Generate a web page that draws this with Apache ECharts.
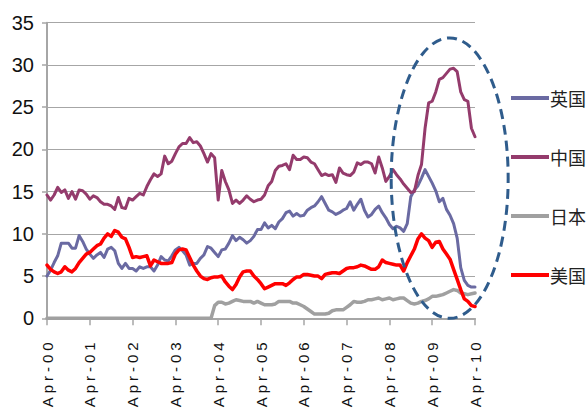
<!DOCTYPE html>
<html>
<head>
<meta charset="utf-8">
<script src="https://cdn.jsdelivr.net/npm/echarts@6/dist/echarts.min.js"></script>
<style>
  html, body { margin: 0; padding: 0; background: #fff; }
  #chart { width: 587px; height: 417px; }
  /* spaced-out date labels on the rotated category axis */
  #chart text[transform^="matrix(0,-1"] { letter-spacing: 4px; }
</style>
</head>
<body>
<div id="chart"></div>
<script>
// Monthly series, Apr-2000 .. Apr-2010 (121 points)
const monthNames = ['Jan','Feb','Mar','Apr','May','Jun','Jul','Aug','Sep','Oct','Nov','Dec'];
const categories = [];
for (let i = 0; i <= 120; i++) {
  const m = (3 + i) % 12;
  const y = Math.floor((3 + i) / 12);
  categories.push(monthNames[m] + '-' + String(y).padStart(2, '0'));
}

const seriesNames = ['英国', '中国', '日本', '美国'];

const ukValues = [
  5.0, 5.7, 6.6, 7.4, 8.9, 8.9, 8.9, 8.3, 8.3, 9.8, 9.1, 8.2,
  7.6, 7.1, 7.5, 7.8, 7.2, 8.2, 8.4, 8.0, 6.5, 5.9, 6.5, 5.9,
  5.9, 5.6, 6.1, 5.9, 6.1, 6.1, 5.6, 6.3, 7.3, 6.9, 6.8, 7.4,
  8.1, 8.4, 8.0, 7.5, 6.3, 6.5, 6.5, 7.1, 7.5, 8.5, 8.3, 7.8,
  7.3, 8.1, 8.2, 8.9, 9.8, 9.2, 9.6, 9.3, 8.9, 9.2, 9.7, 10.5,
  10.5, 11.3, 10.7, 11.0, 10.6, 11.4, 11.8, 12.5, 12.7, 12.1, 12.4, 12.1,
  12.2, 12.8, 13.1, 13.3, 13.8, 14.4, 13.6, 12.8, 12.6, 12.3, 12.5, 12.8,
  13.0, 13.8, 12.8, 13.5, 14.1, 12.8, 12.0, 12.3, 12.9, 13.3, 12.5, 11.9,
  11.1, 10.6, 10.9, 10.7, 10.3, 11.2, 14.4, 15.2, 15.7, 16.6, 17.6, 16.8,
  16.0, 15.1, 13.8, 14.2, 12.9, 12.2, 11.2, 9.5, 6.0, 4.5, 3.9, 3.7,
  3.7
];

const chinaValues = [
  14.6, 14.0, 14.6, 15.5, 14.9, 15.2, 14.2, 15.0, 14.1, 15.2, 15.1, 14.7,
  14.1, 14.5, 14.3, 13.8, 13.5, 13.5, 13.3, 12.9, 14.3, 13.1, 13.0, 14.2,
  14.0, 14.4, 14.8, 14.6, 15.6, 16.4, 17.1, 16.8, 17.1, 19.2, 18.3, 18.6,
  19.5, 20.3, 20.7, 20.7, 21.4, 20.8, 20.9, 20.4, 19.5, 18.5, 19.5, 19.0,
  14.0, 17.5, 16.2, 15.2, 13.6, 14.0, 13.6, 14.0, 14.5, 14.1, 13.8, 14.0,
  14.1, 14.6, 15.7, 16.2, 17.5, 18.0, 18.1, 18.3, 17.6, 19.3, 18.8, 18.8,
  19.1, 19.0, 18.5, 18.3, 17.6, 16.9, 17.1, 16.9, 17.0, 16.1, 17.8, 17.2,
  17.0, 16.9, 17.3, 18.4, 18.2, 18.5, 18.5, 18.3, 17.2, 19.1, 17.8, 16.2,
  16.8, 17.6, 17.0, 16.5, 15.9, 15.4, 14.9, 15.0, 16.9, 18.2, 22.5, 25.5,
  25.7, 26.8, 28.3, 28.5, 29.0, 29.5, 29.6, 29.2, 26.8, 25.9, 25.7, 22.5,
  21.5
];

const japanValues = [
  0, 0, 0, 0, 0, 0, 0, 0, 0, 0, 0, 0,
  0, 0, 0, 0, 0, 0, 0, 0, 0, 0, 0, 0,
  0, 0, 0, 0, 0, 0, 0, 0, 0, 0, 0, 0,
  0, 0, 0, 0, 0, 0, 0, 0, 0, 0, 0, 1.5,
  1.9, 1.9, 1.7, 1.8, 2.0, 2.2, 2.1, 2.0, 2.0, 2.0, 1.8, 2.0,
  1.8, 1.6, 1.6, 1.6, 1.7, 2.0, 2.0, 2.0, 2.0, 1.8, 1.8, 1.6,
  1.4, 1.1, 0.8, 0.5, 0.5, 0.5, 0.5, 0.6, 0.9, 1.0, 1.0, 1.0,
  1.3, 1.6, 2.0, 1.9, 1.9, 2.0, 2.2, 2.2, 2.3, 2.4, 2.2, 2.3,
  2.4, 2.2, 2.3, 2.4, 2.4, 2.1, 1.8, 1.7, 1.8, 2.0, 2.1, 2.3,
  2.6, 2.6, 2.7, 2.8, 3.0, 3.2, 3.4, 3.3, 3.0, 2.9, 2.8, 2.9,
  3.0
];

const usValues = [
  6.3, 5.8, 5.5, 5.3, 5.5, 6.1, 5.7, 5.5, 5.9, 6.6, 7.1, 7.6,
  7.8, 8.2, 8.6, 8.8, 9.5, 10.0, 9.7, 10.4, 10.2, 9.6, 9.4, 8.4,
  7.2, 7.3, 7.2, 7.3, 7.4, 6.2, 6.9, 6.7, 6.5, 6.5, 6.5, 6.6,
  7.6, 8.1, 8.2, 8.1, 7.2, 6.3, 5.6, 5.0, 4.7, 4.6, 4.8, 4.9,
  4.9, 5.0, 4.3, 3.8, 3.4, 4.0, 4.9, 5.5, 5.6, 5.6, 5.0, 4.6,
  4.1, 3.5, 3.7, 3.9, 4.1, 4.1, 4.1, 3.9, 4.2, 4.6, 4.9, 4.9,
  5.2, 5.2, 5.1, 5.0, 5.0, 4.7, 5.2, 5.3, 5.4, 5.4, 5.3, 5.6,
  5.9, 6.0, 6.0, 6.1, 6.3, 6.2, 6.0, 5.8, 5.8, 6.1, 6.9, 6.6,
  6.5, 6.4, 6.3, 6.3, 5.6, 6.6, 7.4, 8.2, 9.4, 10.0, 9.5, 9.2,
  8.4, 9.0, 9.1, 8.2, 7.6, 7.0, 5.8, 4.6, 3.4, 2.3, 2.0, 1.5,
  1.4
];

const yTicks = [0, 5, 10, 15, 20, 25, 30, 35];

const colors = ['#6a6aa2', '#943b6c', '#a0a0a0', '#ff0000'];
const widths = [3, 3, 3.5, 3.5];
const allValues = [ukValues, chinaValues, japanValues, usValues];

const chart = echarts.init(document.getElementById('chart'), null, { renderer: 'svg' });

const axisGray = '#a6a6a6';
const numFont = '"Liberation Sans Narrow", "Liberation Sans", Arial, sans-serif';

chart.setOption({
  animation: false,
  backgroundColor: '#fff',
  grid: { left: 47, right: 112, top: 22.7, bottom: 98.7, containLabel: false },
  legend: {
    orient: 'vertical',
    left: 506,
    top: 84,
    itemGap: 41,
    itemWidth: 38,
    itemHeight: 4,
    icon: 'rect',
    data: seriesNames,
    textStyle: {
      fontFamily: '"Noto Sans CJK SC", sans-serif',
      fontSize: 18,
      color: '#222',
      padding: [0, 0, 0, -4]
    }
  },
  xAxis: {
    type: 'category',
    data: categories,
    boundaryGap: false,
    axisLine: { lineStyle: { color: axisGray, width: 2 } },
    axisTick: { show: true, interval: 11, length: 7, lineStyle: { color: axisGray, width: 1.5 } },
    axisLabel: {
      interval: 11,
      rotate: 90,
      margin: 20,
      fontFamily: '"Liberation Sans", Arial, sans-serif',
      fontSize: 15,
      color: '#111'
    },
    splitLine: { show: false }
  },
  yAxis: {
    type: 'value',
    min: yTicks[0],
    max: yTicks[yTicks.length - 1],
    interval: yTicks[1] - yTicks[0],
    axisLine: { show: true, lineStyle: { color: axisGray, width: 2 } },
    axisTick: { show: true, length: 5, lineStyle: { color: axisGray, width: 1.5 } },
    axisLabel: {
      margin: 13,
      fontFamily: numFont,
      fontSize: 20,
      color: '#111'
    },
    splitLine: { lineStyle: { color: '#a6a6a6', width: 1 } }
  },
  series: seriesNames.map((name, i) => ({
    name: name,
    type: 'line',
    data: allValues[i],
    showSymbol: false,
    symbol: 'none',
    color: colors[i],
    lineStyle: { color: colors[i], width: widths[i], join: 'round', cap: 'round' },
    emphasis: { disabled: true }
  }))
});

// Dashed ellipse highlighting the 2008-2010 swing, placed in data space
function placeHighlight() {
  const p0 = chart.convertToPixel({ xAxisIndex: 0, yAxisIndex: 0 }, [0, 0]);
  const p1 = chart.convertToPixel({ xAxisIndex: 0, yAxisIndex: 0 }, [120, 35]);
  const pxPerMonth = (p1[0] - p0[0]) / 120;
  const pxPerUnit = (p0[1] - p1[1]) / 35;
  const centerMonth = 112.9, centerValue = 16.6;
  const halfMonths = 16.4, halfValue = 16.6;
  chart.setOption({
    graphic: [{
      type: 'ellipse',
      z: 100,
      shape: {
        cx: p0[0] + centerMonth * pxPerMonth,
        cy: p0[1] - centerValue * pxPerUnit,
        rx: halfMonths * pxPerMonth,
        ry: halfValue * pxPerUnit
      },
      style: { fill: 'none', stroke: '#2f5c8c', lineWidth: 3, lineDash: [10, 6] },
      silent: true
    }]
  });
}
placeHighlight();
</script>
</body>
</html>
